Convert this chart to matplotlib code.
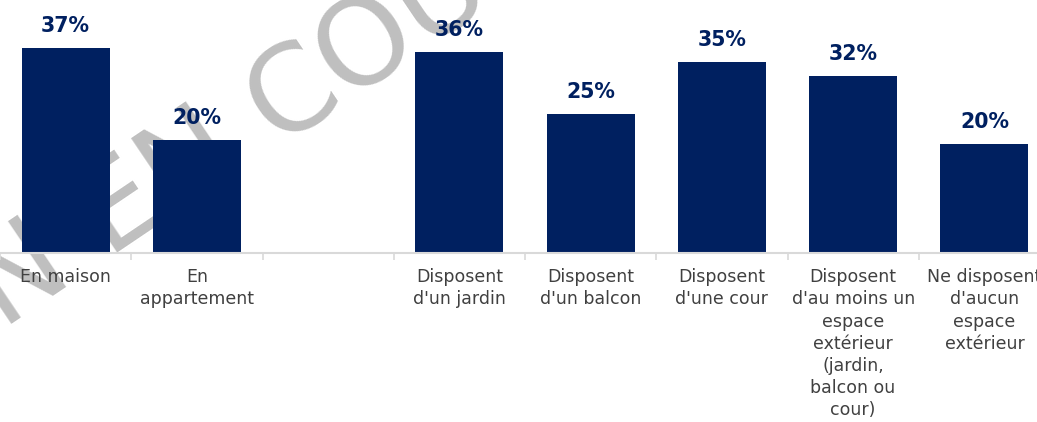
import matplotlib
matplotlib.use("Agg")
import numpy as np
import matplotlib.pyplot as plt

# categories (empty slot between the two groups)
categories = ["En maison", "En\nappartement", "",
              "Disposent\nd'un jardin", "Disposent\nd'un balcon",
              "Disposent\nd'une cour",
              "Disposent\nd'au moins un\nespace\nextérieur\n(jardin,\nbalcon ou\ncour)",
              "Ne disposent\nd'aucun\nespace\nextérieur"]
values = [37.1, 20.4, None, 36.3, 25.1, 34.6, 32.1, 19.7]

navy = "#002060"
fig = plt.figure(figsize=(10.37, 4.22), dpi=100)
ax = fig.add_axes([0.0, 0.4005, 1050 / 1037, 221 / 422])

# watermark behind the bars
wm_x, wm_y = 258 / 1037, 1 - 118 / 422
fig.text(wm_x, wm_y, "VERSION EN ", rotation=34, rotation_mode="anchor",
         ha="right", va="center", fontsize=86, color="#bfbfbf", zorder=0)
fig.text(wm_x, wm_y, "COURS", rotation=34, rotation_mode="anchor",
         ha="left", va="center", fontsize=86, color="#bfbfbf", zorder=0)
ax.set_zorder(1)
ax.patch.set_alpha(0)

x = np.arange(len(categories))
for xi, v in zip(x, values):
    if v is None:
        continue
    ax.bar(xi, v, width=0.67, color=navy, zorder=2)
    ax.annotate(f"{v:.0f}%", (xi, v), xytext=(0, 11.5), textcoords="offset points",
                ha="center", va="baseline", fontsize=14.8, fontweight="bold",
                color=navy, clip_on=False)

ax.set_xlim(-0.5, len(categories) - 0.5)
ax.set_ylim(0, 40)
ax.set_xticks(x)
ax.set_xticklabels(categories, fontsize=12.5, color="#404040", linespacing=1.3)
ax.set_xticks(np.arange(len(categories) + 1) - 0.5, minor=True)
ax.tick_params(axis="x", which="major", length=0, pad=11)
ax.tick_params(axis="x", which="minor", length=5, color="#d9d9d9", width=1.2)
ax.set_yticks([])
for s in ["top", "right", "left"]:
    ax.spines[s].set_visible(False)
ax.spines["bottom"].set_color("#d9d9d9")
ax.spines["bottom"].set_linewidth(1.5)

fig.savefig("out.png", dpi=100)
